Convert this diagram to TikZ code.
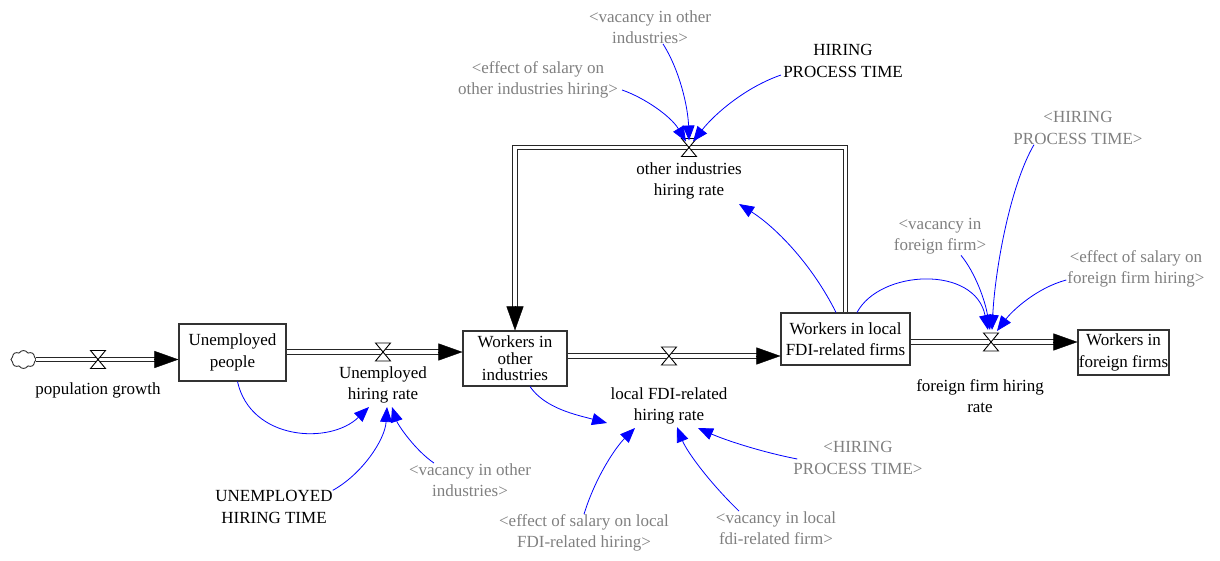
\documentclass[tikz,border=0pt]{standalone}
\usepackage{fontspec}
\setmainfont{Liberation Serif}
\usetikzlibrary{arrows.meta,calc,shapes.symbols}

\definecolor{linkblue}{RGB}{0,0,255}
\definecolor{shadowgray}{RGB}{128,128,128}

\tikzset{
  every node/.style={font=\fontsize{17}{21.5}\selectfont, inner sep=0pt, align=center},
  stock/.style={draw=black!80, line width=1.1pt},
  pipe/.style={draw=black!85, line width=1.3pt, double=white, double distance=3.3pt, shorten >=23pt},
  pipetip/.style={draw=black, line width=0.4pt, -{Triangle[length=24pt,width=17pt]}},
  link/.style={draw=linkblue, line width=0.8pt, -{Triangle[length=15pt,width=12pt]}},
  ghost/.style={text=shadowgray},
  valve/.pic={\draw[fill=white, line width=0.9pt] (-7.5,-9) -- (7.5,-9) -- (-7.5,9) -- (7.5,9) -- cycle;}
}

\begin{document}
\begin{tikzpicture}[x=1pt,y=-1pt]
\useasboundingbox (0,0) rectangle (1220,561);

% stocks
\node[stock, minimum width=107pt, minimum height=57pt] (unemp) at (232.5,352.5) {Unemployed\\people};
\node[stock, minimum width=104pt, minimum height=55pt, font=\fontsize{17}{16.5}\selectfont] (wother) at (515,358.5) {Workers in\\other\\industries};
\node[stock, minimum width=129pt, minimum height=52pt] (wlocal) at (845.5,339) {Workers in local\\FDI-related firms};
\node[stock, minimum width=91pt, minimum height=45pt] (wforeign) at (1123.5,352.5) {Workers in\\foreign firms};

% source cloud
\node[cloud, draw=black!80, line width=0.9pt, cloud puffs=8, cloud puff arc=120, aspect=1.5, minimum width=25pt, minimum height=18pt] (src) at (23.5,359.5) {};

% valve positions
\coordinate (v1) at (98,359.5);
\coordinate (v2) at (383,352);
\coordinate (v3) at (669,356);
\coordinate (v4) at (991,342);
\coordinate (v5) at (689,147.5);

% flows
\draw[pipe] (src.east) -- (unemp.west |- v1);
\draw[pipetip] ($(unemp.west |- v1)+(-24.5,0)$) -- (unemp.west |- v1);
\draw[pipe] (unemp.east |- v2) -- (wother.west |- v2);
\draw[pipetip] ($(wother.west |- v2)+(-24.5,0)$) -- (wother.west |- v2);
\draw[pipe] (wother.east |- v3) -- (wlocal.west |- v3);
\draw[pipetip] ($(wlocal.west |- v3)+(-24.5,0)$) -- (wlocal.west |- v3);
\draw[pipe] (wlocal.east |- v4) -- (wforeign.west |- v4);
\draw[pipetip] ($(wforeign.west |- v4)+(-24.5,0)$) -- (wforeign.west |- v4);
\draw[pipe] (wlocal.north) |- (v5) -| (wother.north);
\draw[pipetip] ($(wother.north)+(0,-24.5)$) -- (wother.north);

\foreach \v in {v1,v2,v3,v4,v5} \pic at (\v) {valve};

% flow rate names
\node (pgl) at (98,390) {population growth};
\node (uhr) at (383,385) {Unemployed\\hiring rate};
\node (lhr) at (669,406) {local FDI-related\\hiring rate};
\node (fhr) at (980,396) {foreign firm hiring\\rate};
\node (ohr) at (689,181) {other industries\\hiring rate};

% auxiliaries and shadow variables
\node (uht) at (274,507) {UNEMPLOYED\\HIRING TIME};
\node (hpt) at (843,61) {HIRING\\PROCESS TIME};
\node[ghost] (gvo1) at (470,480) {<vacancy in other\\industries>};
\node[ghost] (gesl) at (584,533) {<effect of salary on local\\FDI-related hiring>};
\node[ghost] (gvl) at (776,528) {<vacancy in local\\fdi-related firm>};
\node[ghost] (ghp1) at (858,458) {<HIRING\\PROCESS TIME>};
\node[ghost] (gvf) at (940,236) {<vacancy in\\foreign firm>};
\node[ghost] (ghp2) at (1078,128) {<HIRING\\PROCESS TIME>};
\node[ghost] (gesf) at (1136,269) {<effect of salary on\\foreign firm hiring>};
\node[ghost] (geso) at (538,80) {<effect of salary on\\other industries hiring>};
\node[ghost] (gvo2) at (650,27) {<vacancy in other\\industries>};

% links into Unemployed hiring rate
\draw[link] ($(unemp.south)+(5,0)$) .. controls +(13,59) and +(-39,38) .. ($(uhr)+(-14,22)$);
\draw[link] (uht.north east) .. controls +(29,-16) and +(-2,33) .. ($(uhr)+(4,22)$);
\draw[link] ($(gvo1.north)+(-36,0)$) .. controls +(-19,-13) and +(6,18) .. ($(uhr)+(9,22)$);

% links into local FDI-related hiring rate
\draw[link] ($(wother.south)+(15,0)$) .. controls +(15,22) and +(-30,-8) .. ($(lhr)+(-62,17)$);
\draw[link] (gesl.north) .. controls +(11,-36) and +(-20,20) .. ($(lhr)+(-34,22)$);
\draw[link] ($(gvl.north)+(-37,0)$) .. controls +(-29,-28) and +(10,25) .. ($(lhr)+(8,21)$);
\draw[link] ($(ghp1.west)+(4,1)$) .. controls +(-36,-7) and +(27,12) .. ($(lhr)+(29,22)$);

% link into other industries hiring rate (label)
\draw[link] ($(wlocal.north)+(-9.5,0)$) .. controls +(-25,-50) and +(35,22) .. ($(ohr)+(50,23)$);

% links into the other industries valve
\draw[link] ($(geso.east)+(4,10)$) .. controls +(23,8) and +(-15,-25) .. ($(v5)+(-3,-6)$);
\draw[link] ($(gvo2.south)+(13,0)$) .. controls +(17,27) and +(-1,-33) .. ($(v5)+(0,-7)$);
\draw[link] ($(hpt.west)+(-2,14)$) .. controls +(-35,12) and +(22,-28) .. ($(v5)+(4,-6)$);

% links into the foreign firm valve
\draw[link] ($(wlocal.north)+(11.5,0)$) .. controls +(23,-43) and +(-13,-65) .. ($(v4)+(-3,-12)$);
\draw[link] ($(gvf.south)+(21,1)$) .. controls +(14,17) and +(-5,-30) .. ($(v4)+(-1,-12)$);
\draw[link] ($(ghp2.south)+(-44,0)$) .. controls +(-24,41) and +(3,-60) .. ($(v4)+(1,-12)$);
\draw[link] ($(gesf.west)+(-1,11)$) .. controls +(-30,8) and +(15,-20) .. ($(v4)+(6,-11)$);

\end{tikzpicture}
\end{document}
